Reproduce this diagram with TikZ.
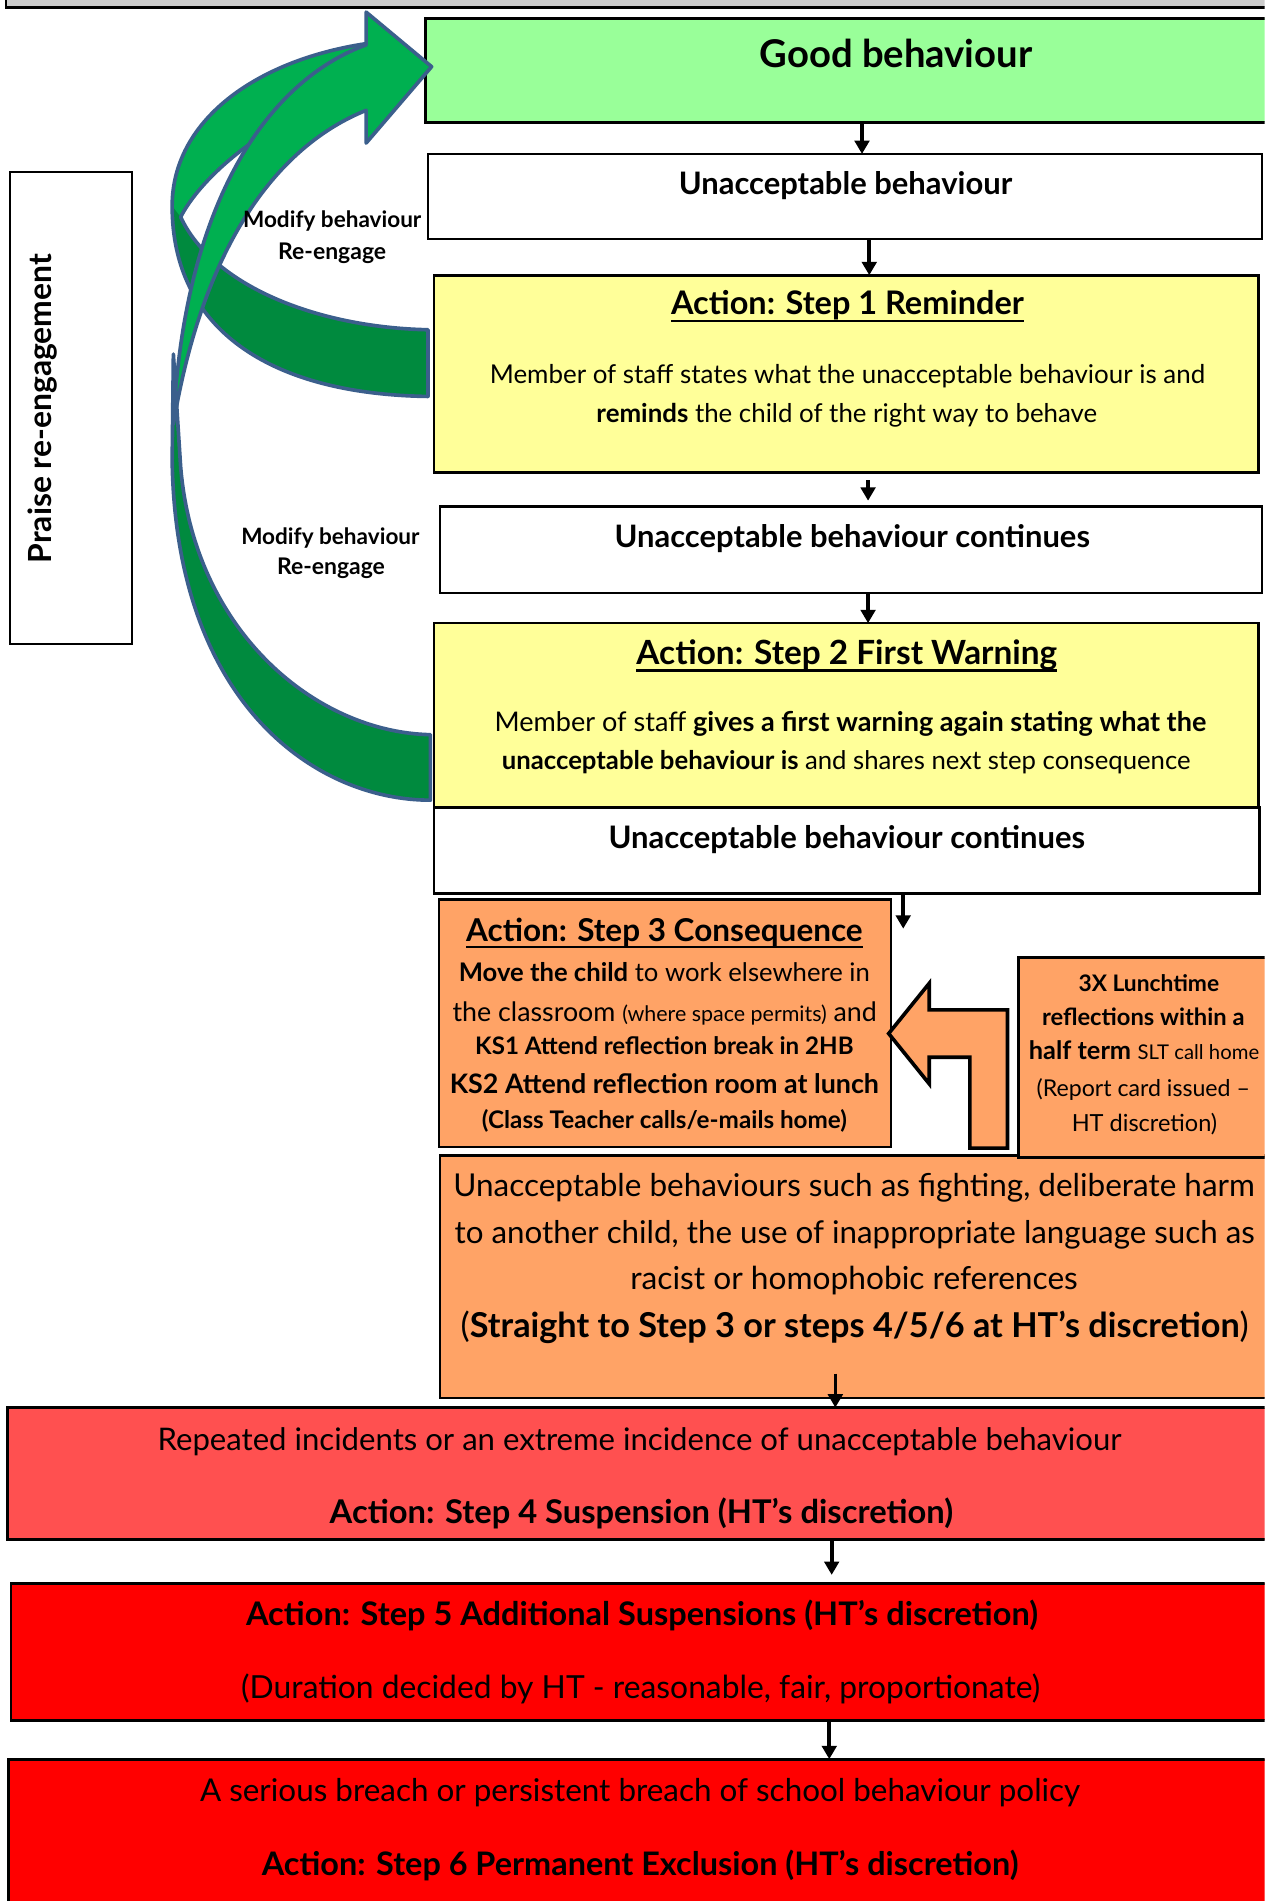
\documentclass[tikz,border=0pt]{standalone}
\usepackage{fontspec}
\setmainfont{Lato}
\usepackage{graphicx}
\usetikzlibrary{arrows.meta}
\definecolor{goodg}{HTML}{99FF99}
\definecolor{yel}{HTML}{FFFF99}
\definecolor{org}{HTML}{FFA366}
\definecolor{redA}{HTML}{FF5050}
\definecolor{redB}{HTML}{FF0000}
\definecolor{gbar}{HTML}{CCCCCC}
\definecolor{brg}{HTML}{00B050}
\definecolor{dkg}{HTML}{008A3E}
\definecolor{outl}{HTML}{3B5F8C}
\newcommand\fit[2]{\resizebox{#1pt}{!}{\fontsize{20}{24}\selectfont\raisebox{-0.5ex}[0pt][0pt]{#2}}}
\newcommand\smf{\fontsize{16}{18}\selectfont}
\newsavebox\ulbox
\newcommand\ulx[1]{\sbox\ulbox{#1}\rlap{\rule[-0.22em]{\wd\ulbox}{0.075em}}\usebox\ulbox}
\begin{document}
\begin{tikzpicture}[x=1pt,y=-1pt,
  box/.style={draw=black, line width=2.2pt, inner sep=0pt, outer sep=0pt, anchor=north west},
  txt/.style={inner sep=0pt, outer sep=0pt},
  arr/.style={line width=3pt, -{Triangle[length=11pt,width=12pt]}},
  greenline/.style={draw=outl, line width=3pt, line join=round}]
\useasboundingbox (0,0) rectangle (1043,1568);
\clip (0,0) rectangle (1043,1568);
\fill[white] (0,0) rectangle (1043,1568);

% top bar
\node[box, fill=gbar, minimum width=1060pt, minimum height=16pt] (topbar) at (5,-10) {};

% boxes
\node[box, fill=goodg, minimum width=709pt, minimum height=86pt] (good) at (351,15) {};
\node[box, fill=white, minimum width=688pt, minimum height=70pt] (unacc) at (353,127) {};
\node[box, fill=yel, minimum width=680pt, minimum height=163pt] (step1) at (358,227) {};
\node[box, fill=white, minimum width=678pt, minimum height=71pt] (cont1) at (363,418) {};
\node[box, fill=yel, minimum width=680pt, minimum height=152pt] (step2) at (358,514) {};
\node[box, fill=white, minimum width=681pt, minimum height=71pt] (cont2) at (358,666) {};
\node[box, fill=org, minimum width=373pt, minimum height=204pt] (step3) at (362,742) {};
\node[box, fill=org, minimum width=697pt, minimum height=200pt] (serious) at (363,953) {};
\node[box, fill=org, minimum width=220pt, minimum height=165pt] (lunch) at (840,790) {};
\node[box, fill=redA, minimum width=1054pt, minimum height=109pt] (step4) at (6,1161) {};
\node[box, fill=redB, minimum width=1051pt, minimum height=113pt] (step5) at (9,1306) {};
\node[box, fill=redB, minimum width=1053pt, minimum height=160pt] (step6) at (7,1451) {};
\node[box, fill=white, line width=1.6pt, minimum width=101pt, minimum height=389pt] (praise) at (8,142) {};

% block arrow (lunch -> step3)
\draw[fill=org, draw=black, line width=3pt, line join=miter]
  (800,947) -- (800,872) -- (766.5,872) -- (766.5,894) -- (733,852.5) -- (766.5,811)
  -- (766.5,833) -- (831,833) -- (831,947) -- cycle;

% green curved arrows
\path[fill=dkg, greenline]
  (355,660) .. controls (260,660) and (145,580) .. (142,380) -- (143,292)
  -- (149,385) .. controls (160,520) and (260,604) .. (355,606) -- cycle;
\fill[brg] (302,36) .. controls (210,50) and (142,100) .. (142,170)
  .. controls (142,270) and (220,325) .. (353,327) -- (353,272)
  .. controls (260,270) and (175,235) .. (149,179)
  .. controls (165,148) and (215,100) .. (302,70) -- cycle;
\fill[dkg] (142,170) .. controls (142,270) and (220,325) .. (353,327) -- (353,272)
  .. controls (260,270) and (175,235) .. (149,179) -- cycle;
\path[greenline] (302,36) .. controls (210,50) and (142,100) .. (142,170)
  .. controls (142,270) and (220,325) .. (353,327) -- (353,272)
  .. controls (260,270) and (175,235) .. (149,179)
  .. controls (165,148) and (215,100) .. (302,70);
\path[fill=brg, greenline]
  (302,91) -- (302,118) -- (356,55) -- (302,10) -- (302,37)
  .. controls (225,65) and (152,160) .. (143,350)
  .. controls (168,200) and (230,120) .. (302,91) -- cycle;

% connectors
\coordinate (ax1) at (711,0);
\coordinate (ax2) at (717,0);
\coordinate (ax3) at (716,0);
\coordinate (ax5) at (745,0);
\coordinate (e5) at (745,766);
\coordinate (s6) at (689,1133);
\coordinate (ax7) at (686,0);
\coordinate (ax8) at (684,0);
\draw[arr] (ax1 |- good.south) -- (ax1 |- unacc.north);
\draw[arr] (ax2 |- unacc.south) -- (ax2 |- step1.north);
\draw[arr, shorten <=6pt, shorten >=5pt] (ax3 |- step1.south) -- (ax3 |- cont1.north);
\draw[arr] (ax3 |- cont1.south) -- (ax3 |- step2.north);
\draw[arr] (ax5 |- cont2.south) -- (e5);
\draw[arr] (s6) -- (s6 |- step4.north);
\draw[arr, shorten >=7pt] (ax7 |- step4.south) -- (ax7 |- step5.north);
\draw[arr] (ax8 |- step5.south) -- (ax8 |- step6.north);

% texts
\node[txt] (tgood) at (739,48) {\fit{225}{\bfseries Good behaviour}};
\node[txt] (tunacc) at (697.4,154) {\fit{275}{\bfseries Unacceptable behaviour}};
\node[txt] (ts1a) at (699,253) {\fit{291}{\bfseries\ulx{Action: Step 1 Reminder}}};
\node[txt] (ts1b) at (699,311) {\fit{590}{Member of staff states what the unacceptable behaviour is and}};
\node[txt] (ts1c) at (698.5,343) {\fit{413}{\textbf{reminds} the child of the right way to behave}};
\node[txt] (tc1) at (703,445) {\fit{392}{\bfseries Unacceptable behaviour continues}};
\node[txt] (ts2a) at (698.5,541) {\fit{347}{\bfseries\ulx{Action: Step 2 First Warning}}};
\node[txt] (ts2b) at (701.5,598) {\fit{587}{Member of staff \textbf{gives a first warning again stating what the}}};
\node[txt] (ts2c) at (698,629) {\fit{568}{\textbf{unacceptable behaviour is} and shares next step consequence}};
\node[txt] (tc2) at (698.5,693) {\fit{393}{\bfseries Unacceptable behaviour continues}};
\node[txt] (ts3a) at (548,770) {\fit{327}{\bfseries\ulx{Action: Step 3 Consequence}}};
\node[txt] (ts3b) at (548,804.4) {\fit{339}{\textbf{Move the child} to work elsewhere in}};
\node[txt] (ts3c) at (548.3,836.6) {\fit{350}{the classroom {\smf(where space permits)} and}};
\node[txt] (ts3d) at (548,865) {\fit{312}{\bfseries KS1 Attend reflection break in 2HB}};
\node[txt] (ts3e) at (548,896) {\fit{354}{\bfseries KS2 Attend reflection room at lunch}};
\node[txt] (ts3f) at (548,925.4) {\fit{301}{\bfseries (Class Teacher calls/e-mails home)}};
\node[txt] (tl1) at (947.6,812.7) {\fit{116}{\bfseries 3X Lunchtime}};
\node[txt] (tl2) at (943,841) {\fit{167}{\bfseries reflections within a}};
\node[txt] (tl3) at (943.6,869) {\fit{190}{\textbf{half term} {\smf SLT call home}}};
\node[txt] (tl4) at (943,899.3) {\fit{176}{(Report card issued –}};
\node[txt] (tl5) at (944,928) {\fit{120}{HT discretion)}};
\node[txt] (tse1) at (704.5,980) {\fit{661}{Unacceptable behaviours such as fighting, deliberate harm}};
\node[txt] (tse2) at (705,1019) {\fit{660}{to another child, the use of inappropriate language such as}};
\node[txt] (tse3) at (704.5,1057) {\fit{369}{racist or homophobic references}};
\node[txt] (tse4) at (705,1096) {\fit{650}{(\textbf{Straight to Step 3 or steps 4/5/6 at HT’s discretion})}};
\node[txt] (ts4a) at (527.5,1189.5) {\fit{795}{Repeated incidents or an extreme incidence of unacceptable behaviour}};
\node[txt] (ts4b) at (529,1250) {\fit{514}{\bfseries Action: Step 4 Suspension (HT’s discretion)}};
\node[txt] (ts5a) at (529.5,1334) {\fit{653}{\bfseries Action: Step 5 Additional Suspensions (HT’s discretion)}};
\node[txt] (ts5b) at (528.5,1394) {\fit{659}{(Duration decided by HT - reasonable, fair, proportionate)}};
\node[txt] (ts6a) at (528,1479.6) {\fit{726}{A serious breach or persistent breach of school behaviour policy}};
\node[txt] (ts6b) at (528,1540) {\fit{624}{\bfseries Action: Step 6 Permanent Exclusion (HT’s discretion)}};
\node[txt] (tm1a) at (274,183) {\fit{147}{\bfseries Modify behaviour}};
\node[txt] (tm1b) at (274,209) {\fit{89}{\bfseries Re-engage}};
\node[txt] (tm2a) at (272.5,444) {\fit{147}{\bfseries Modify behaviour}};
\node[txt] (tm2b) at (273,469) {\fit{89}{\bfseries Re-engage}};
\node[txt, rotate=90] (tpraise) at (36,337) {\fit{255}{\bfseries Praise re-engagement}};
\end{tikzpicture}
\end{document}
